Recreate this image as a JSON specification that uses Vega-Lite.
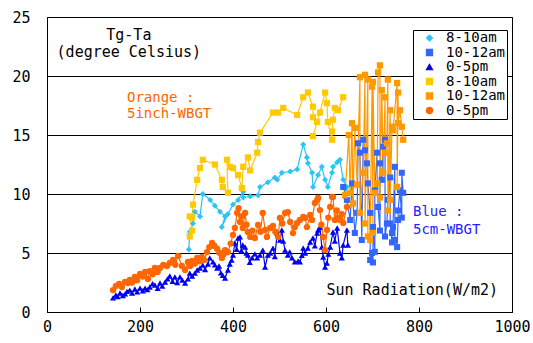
{
"$schema": "https://vega.github.io/schema/vega-lite/v6.json",
"width": 465, "height": 295,
"autosize": {"type": "none"},
"padding": {"left": 47, "top": 17, "right": 21, "bottom": 31},
"background": "white",
"config": {"view": {"stroke": "black", "strokeWidth": 1}, "font": "DejaVu Sans Mono"},
"datasets": {
"main": [
{"s":"5cm 8-10am","x":305,"y":5.3},{"s":"5cm 8-10am","x":307,"y":6.8},{"s":"5cm 8-10am","x":314,"y":7.5},{"s":"5cm 8-10am","x":318,"y":8.5},{"s":"5cm 8-10am","x":329,"y":8.1},{"s":"5cm 8-10am","x":335,"y":10.0},{"s":"5cm 8-10am","x":351,"y":9.5},{"s":"5cm 8-10am","x":361,"y":9.0},{"s":"5cm 8-10am","x":372,"y":8.5},{"s":"5cm 8-10am","x":383,"y":8.1},{"s":"5cm 8-10am","x":376,"y":7.2},{"s":"5cm 8-10am","x":389,"y":8.3},{"s":"5cm 8-10am","x":400,"y":9.1},{"s":"5cm 8-10am","x":411,"y":9.5},{"s":"5cm 8-10am","x":422,"y":10.2},{"s":"5cm 8-10am","x":422,"y":9.7},{"s":"5cm 8-10am","x":437,"y":9.8},{"s":"5cm 8-10am","x":454,"y":9.9},{"s":"5cm 8-10am","x":458,"y":10.6},{"s":"5cm 8-10am","x":475,"y":11.0},{"s":"5cm 8-10am","x":490,"y":11.4},{"s":"5cm 8-10am","x":495,"y":11.2},{"s":"5cm 8-10am","x":505,"y":11.8},{"s":"5cm 8-10am","x":523,"y":11.9},{"s":"5cm 8-10am","x":538,"y":12.1},{"s":"5cm 8-10am","x":551,"y":14.2},{"s":"5cm 8-10am","x":559,"y":13.1},{"s":"5cm 8-10am","x":561,"y":12.6},{"s":"5cm 8-10am","x":570,"y":11.8},{"s":"5cm 8-10am","x":572,"y":10.6},{"s":"5cm 8-10am","x":583,"y":11.6},{"s":"5cm 8-10am","x":591,"y":12.3},{"s":"5cm 8-10am","x":598,"y":11.2},{"s":"5cm 8-10am","x":604,"y":10.6},{"s":"5cm 8-10am","x":613,"y":11.8},{"s":"5cm 8-10am","x":615,"y":12.3},{"s":"5cm 8-10am","x":624,"y":12.7},{"s":"5cm 8-10am","x":630,"y":12.9},{"s":"5cm 8-10am","x":637,"y":11.2},{"s":"5cm 8-10am","x":645,"y":10.6},{"s":"5cm 8-10am","x":641,"y":9.7},
{"s":"5cm 10-12am","x":637,"y":10.6},{"s":"5cm 10-12am","x":645,"y":9.5},{"s":"5cm 10-12am","x":652,"y":7.8},{"s":"5cm 10-12am","x":656,"y":10.9},{"s":"5cm 10-12am","x":662,"y":6.7},{"s":"5cm 10-12am","x":667,"y":8.4},{"s":"5cm 10-12am","x":669,"y":14.3},{"s":"5cm 10-12am","x":673,"y":13.5},{"s":"5cm 10-12am","x":677,"y":6.1},{"s":"5cm 10-12am","x":680,"y":14.6},{"s":"5cm 10-12am","x":684,"y":13.7},{"s":"5cm 10-12am","x":688,"y":12.6},{"s":"5cm 10-12am","x":690,"y":10.9},{"s":"5cm 10-12am","x":695,"y":8.4},{"s":"5cm 10-12am","x":695,"y":4.4},{"s":"5cm 10-12am","x":699,"y":5.0},{"s":"5cm 10-12am","x":701,"y":4.2},{"s":"5cm 10-12am","x":701,"y":7.2},{"s":"5cm 10-12am","x":705,"y":5.1},{"s":"5cm 10-12am","x":705,"y":10.3},{"s":"5cm 10-12am","x":710,"y":13.5},{"s":"5cm 10-12am","x":712,"y":8.9},{"s":"5cm 10-12am","x":716,"y":6.9},{"s":"5cm 10-12am","x":716,"y":12.6},{"s":"5cm 10-12am","x":720,"y":11.2},{"s":"5cm 10-12am","x":723,"y":14.0},{"s":"5cm 10-12am","x":727,"y":14.6},{"s":"5cm 10-12am","x":727,"y":6.4},{"s":"5cm 10-12am","x":731,"y":7.5},{"s":"5cm 10-12am","x":733,"y":9.5},{"s":"5cm 10-12am","x":738,"y":11.4},{"s":"5cm 10-12am","x":738,"y":7.5},{"s":"5cm 10-12am","x":742,"y":5.9},{"s":"5cm 10-12am","x":742,"y":6.7},{"s":"5cm 10-12am","x":744,"y":7.2},{"s":"5cm 10-12am","x":748,"y":12.3},{"s":"5cm 10-12am","x":748,"y":6.1},{"s":"5cm 10-12am","x":753,"y":5.5},{"s":"5cm 10-12am","x":755,"y":7.8},{"s":"5cm 10-12am","x":755,"y":8.6},{"s":"5cm 10-12am","x":759,"y":10.3},{"s":"5cm 10-12am","x":763,"y":8.0},{"s":"5cm 10-12am","x":763,"y":11.8},{"s":"5cm 10-12am","x":766,"y":10.1},
{"s":"5cm 0-5pm","x":142,"y":1.19},{"s":"5cm 0-5pm","x":148,"y":1.44},{"s":"5cm 0-5pm","x":152,"y":1.3},{"s":"5cm 0-5pm","x":157,"y":1.61},{"s":"5cm 0-5pm","x":163,"y":1.4},{"s":"5cm 0-5pm","x":168,"y":1.53},{"s":"5cm 0-5pm","x":172,"y":1.75},{"s":"5cm 0-5pm","x":178,"y":1.86},{"s":"5cm 0-5pm","x":183,"y":1.6},{"s":"5cm 0-5pm","x":189,"y":1.95},{"s":"5cm 0-5pm","x":194,"y":1.7},{"s":"5cm 0-5pm","x":200,"y":2.03},{"s":"5cm 0-5pm","x":206,"y":1.8},{"s":"5cm 0-5pm","x":211,"y":2.03},{"s":"5cm 0-5pm","x":216,"y":1.9},{"s":"5cm 0-5pm","x":221,"y":2.12},{"s":"5cm 0-5pm","x":227,"y":2.4},{"s":"5cm 0-5pm","x":232,"y":2.29},{"s":"5cm 0-5pm","x":238,"y":2.0},{"s":"5cm 0-5pm","x":243,"y":2.46},{"s":"5cm 0-5pm","x":248,"y":2.2},{"s":"5cm 0-5pm","x":254,"y":2.54},{"s":"5cm 0-5pm","x":259,"y":2.8},{"s":"5cm 0-5pm","x":264,"y":3.05},{"s":"5cm 0-5pm","x":270,"y":2.6},{"s":"5cm 0-5pm","x":275,"y":2.97},{"s":"5cm 0-5pm","x":280,"y":2.5},{"s":"5cm 0-5pm","x":286,"y":2.97},{"s":"5cm 0-5pm","x":291,"y":2.7},{"s":"5cm 0-5pm","x":297,"y":2.46},{"s":"5cm 0-5pm","x":303,"y":2.8},{"s":"5cm 0-5pm","x":307,"y":3.3},{"s":"5cm 0-5pm","x":312,"y":3.05},{"s":"5cm 0-5pm","x":318,"y":3.3},{"s":"5cm 0-5pm","x":323,"y":3.56},{"s":"5cm 0-5pm","x":329,"y":3.73},{"s":"5cm 0-5pm","x":335,"y":3.98},{"s":"5cm 0-5pm","x":340,"y":3.6},{"s":"5cm 0-5pm","x":346,"y":4.07},{"s":"5cm 0-5pm","x":350,"y":4.58},{"s":"5cm 0-5pm","x":357,"y":4.24},{"s":"5cm 0-5pm","x":361,"y":4.0},{"s":"5cm 0-5pm","x":366,"y":3.73},{"s":"5cm 0-5pm","x":370,"y":3.9},{"s":"5cm 0-5pm","x":374,"y":3.31},{"s":"5cm 0-5pm","x":378,"y":3.1},{"s":"5cm 0-5pm","x":383,"y":2.88},{"s":"5cm 0-5pm","x":389,"y":3.56},{"s":"5cm 0-5pm","x":393,"y":4.07},{"s":"5cm 0-5pm","x":397,"y":4.4},{"s":"5cm 0-5pm","x":400,"y":4.83},{"s":"5cm 0-5pm","x":404,"y":5.85},{"s":"5cm 0-5pm","x":408,"y":5.3},{"s":"5cm 0-5pm","x":411,"y":6.27},{"s":"5cm 0-5pm","x":415,"y":6.36},{"s":"5cm 0-5pm","x":418,"y":5.2},{"s":"5cm 0-5pm","x":421,"y":5.68},{"s":"5cm 0-5pm","x":426,"y":5.51},{"s":"5cm 0-5pm","x":429,"y":5.0},{"s":"5cm 0-5pm","x":432,"y":4.83},{"s":"5cm 0-5pm","x":436,"y":4.2},{"s":"5cm 0-5pm","x":441,"y":4.58},{"s":"5cm 0-5pm","x":447,"y":4.92},{"s":"5cm 0-5pm","x":452,"y":4.58},{"s":"5cm 0-5pm","x":458,"y":4.83},{"s":"5cm 0-5pm","x":464,"y":5.25},{"s":"5cm 0-5pm","x":469,"y":3.81},{"s":"5cm 0-5pm","x":475,"y":4.83},{"s":"5cm 0-5pm","x":480,"y":5.0},{"s":"5cm 0-5pm","x":486,"y":5.42},{"s":"5cm 0-5pm","x":490,"y":4.7},{"s":"5cm 0-5pm","x":495,"y":6.69},{"s":"5cm 0-5pm","x":501,"y":6.1},{"s":"5cm 0-5pm","x":505,"y":6.95},{"s":"5cm 0-5pm","x":508,"y":6.0},{"s":"5cm 0-5pm","x":512,"y":5.25},{"s":"5cm 0-5pm","x":518,"y":4.83},{"s":"5cm 0-5pm","x":522,"y":5.1},{"s":"5cm 0-5pm","x":527,"y":4.58},{"s":"5cm 0-5pm","x":533,"y":4.24},{"s":"5cm 0-5pm","x":540,"y":4.32},{"s":"5cm 0-5pm","x":544,"y":4.24},{"s":"5cm 0-5pm","x":548,"y":4.8},{"s":"5cm 0-5pm","x":551,"y":5.42},{"s":"5cm 0-5pm","x":555,"y":5.0},{"s":"5cm 0-5pm","x":561,"y":5.42},{"s":"5cm 0-5pm","x":566,"y":5.93},{"s":"5cm 0-5pm","x":572,"y":6.27},{"s":"5cm 0-5pm","x":576,"y":5.6},{"s":"5cm 0-5pm","x":581,"y":6.69},{"s":"5cm 0-5pm","x":583,"y":6.95},{"s":"5cm 0-5pm","x":587,"y":7.2},{"s":"5cm 0-5pm","x":591,"y":5.51},{"s":"5cm 0-5pm","x":594,"y":4.66},{"s":"5cm 0-5pm","x":598,"y":3.81},{"s":"5cm 0-5pm","x":602,"y":4.15},{"s":"5cm 0-5pm","x":605,"y":4.9},{"s":"5cm 0-5pm","x":609,"y":5.51},{"s":"5cm 0-5pm","x":615,"y":6.78},{"s":"5cm 0-5pm","x":619,"y":6.0},{"s":"5cm 0-5pm","x":624,"y":7.12},{"s":"5cm 0-5pm","x":630,"y":5.0},{"s":"5cm 0-5pm","x":634,"y":4.6},{"s":"5cm 0-5pm","x":637,"y":5.68},{"s":"5cm 0-5pm","x":645,"y":6.95},{"s":"5cm 0-5pm","x":647,"y":5.68},
{"s":"5inch 8-10am","x":307,"y":6.4},{"s":"5inch 8-10am","x":312,"y":6.9},{"s":"5inch 8-10am","x":307,"y":8.1},{"s":"5inch 8-10am","x":312,"y":8.0},{"s":"5inch 8-10am","x":314,"y":9.1},{"s":"5inch 8-10am","x":323,"y":11.2},{"s":"5inch 8-10am","x":329,"y":12.2},{"s":"5inch 8-10am","x":335,"y":12.9},{"s":"5inch 8-10am","x":361,"y":12.5},{"s":"5inch 8-10am","x":376,"y":11.2},{"s":"5inch 8-10am","x":378,"y":10.6},{"s":"5inch 8-10am","x":389,"y":10.1},{"s":"5inch 8-10am","x":387,"y":12.9},{"s":"5inch 8-10am","x":394,"y":12.3},{"s":"5inch 8-10am","x":400,"y":12.2},{"s":"5inch 8-10am","x":411,"y":11.6},{"s":"5inch 8-10am","x":419,"y":10.5},{"s":"5inch 8-10am","x":422,"y":12.3},{"s":"5inch 8-10am","x":432,"y":13.1},{"s":"5inch 8-10am","x":437,"y":12.0},{"s":"5inch 8-10am","x":452,"y":13.5},{"s":"5inch 8-10am","x":454,"y":14.4},{"s":"5inch 8-10am","x":458,"y":15.2},{"s":"5inch 8-10am","x":486,"y":16.9},{"s":"5inch 8-10am","x":497,"y":16.9},{"s":"5inch 8-10am","x":508,"y":17.3},{"s":"5inch 8-10am","x":538,"y":16.7},{"s":"5inch 8-10am","x":551,"y":18.2},{"s":"5inch 8-10am","x":561,"y":18.6},{"s":"5inch 8-10am","x":572,"y":17.4},{"s":"5inch 8-10am","x":572,"y":16.5},{"s":"5inch 8-10am","x":581,"y":16.1},{"s":"5inch 8-10am","x":572,"y":14.9},{"s":"5inch 8-10am","x":587,"y":16.9},{"s":"5inch 8-10am","x":598,"y":18.6},{"s":"5inch 8-10am","x":602,"y":17.7},{"s":"5inch 8-10am","x":604,"y":16.1},{"s":"5inch 8-10am","x":613,"y":14.6},{"s":"5inch 8-10am","x":613,"y":15.3},{"s":"5inch 8-10am","x":615,"y":16.3},{"s":"5inch 8-10am","x":619,"y":17.3},{"s":"5inch 8-10am","x":626,"y":17.1},{"s":"5inch 8-10am","x":637,"y":18.2},
{"s":"5inch 10-12am","x":641,"y":9.9},{"s":"5inch 10-12am","x":649,"y":15.0},{"s":"5inch 10-12am","x":652,"y":10.1},{"s":"5inch 10-12am","x":656,"y":16.0},{"s":"5inch 10-12am","x":658,"y":9.2},{"s":"5inch 10-12am","x":662,"y":15.6},{"s":"5inch 10-12am","x":667,"y":10.8},{"s":"5inch 10-12am","x":673,"y":19.9},{"s":"5inch 10-12am","x":673,"y":8.4},{"s":"5inch 10-12am","x":680,"y":11.8},{"s":"5inch 10-12am","x":684,"y":20.1},{"s":"5inch 10-12am","x":684,"y":7.5},{"s":"5inch 10-12am","x":690,"y":19.7},{"s":"5inch 10-12am","x":690,"y":6.4},{"s":"5inch 10-12am","x":695,"y":6.1},{"s":"5inch 10-12am","x":699,"y":19.1},{"s":"5inch 10-12am","x":701,"y":6.7},{"s":"5inch 10-12am","x":701,"y":19.5},{"s":"5inch 10-12am","x":705,"y":10.1},{"s":"5inch 10-12am","x":710,"y":10.9},{"s":"5inch 10-12am","x":712,"y":20.3},{"s":"5inch 10-12am","x":716,"y":20.9},{"s":"5inch 10-12am","x":716,"y":9.7},{"s":"5inch 10-12am","x":720,"y":18.8},{"s":"5inch 10-12am","x":723,"y":11.8},{"s":"5inch 10-12am","x":727,"y":18.2},{"s":"5inch 10-12am","x":727,"y":13.5},{"s":"5inch 10-12am","x":731,"y":14.3},{"s":"5inch 10-12am","x":733,"y":19.7},{"s":"5inch 10-12am","x":733,"y":8.6},{"s":"5inch 10-12am","x":738,"y":17.1},{"s":"5inch 10-12am","x":738,"y":9.5},{"s":"5inch 10-12am","x":742,"y":15.7},{"s":"5inch 10-12am","x":744,"y":15.4},{"s":"5inch 10-12am","x":753,"y":19.4},{"s":"5inch 10-12am","x":753,"y":10.6},{"s":"5inch 10-12am","x":755,"y":18.6},{"s":"5inch 10-12am","x":755,"y":16.0},{"s":"5inch 10-12am","x":759,"y":17.1},{"s":"5inch 10-12am","x":763,"y":15.7},{"s":"5inch 10-12am","x":766,"y":14.6},
{"s":"5inch 0-5pm","x":142,"y":1.86},{"s":"5inch 0-5pm","x":148,"y":2.2},{"s":"5inch 0-5pm","x":155,"y":2.37},{"s":"5inch 0-5pm","x":161,"y":2.12},{"s":"5inch 0-5pm","x":168,"y":2.54},{"s":"5inch 0-5pm","x":174,"y":2.46},{"s":"5inch 0-5pm","x":178,"y":2.71},{"s":"5inch 0-5pm","x":183,"y":2.5},{"s":"5inch 0-5pm","x":189,"y":2.97},{"s":"5inch 0-5pm","x":194,"y":2.7},{"s":"5inch 0-5pm","x":200,"y":3.22},{"s":"5inch 0-5pm","x":206,"y":3.0},{"s":"5inch 0-5pm","x":211,"y":3.39},{"s":"5inch 0-5pm","x":217,"y":2.8},{"s":"5inch 0-5pm","x":221,"y":3.47},{"s":"5inch 0-5pm","x":227,"y":3.2},{"s":"5inch 0-5pm","x":232,"y":3.73},{"s":"5inch 0-5pm","x":238,"y":3.4},{"s":"5inch 0-5pm","x":243,"y":3.73},{"s":"5inch 0-5pm","x":250,"y":3.98},{"s":"5inch 0-5pm","x":258,"y":3.9},{"s":"5inch 0-5pm","x":264,"y":4.15},{"s":"5inch 0-5pm","x":271,"y":4.41},{"s":"5inch 0-5pm","x":276,"y":4.0},{"s":"5inch 0-5pm","x":282,"y":4.75},{"s":"5inch 0-5pm","x":290,"y":3.9},{"s":"5inch 0-5pm","x":297,"y":3.56},{"s":"5inch 0-5pm","x":303,"y":4.24},{"s":"5inch 0-5pm","x":308,"y":3.9},{"s":"5inch 0-5pm","x":312,"y":4.32},{"s":"5inch 0-5pm","x":318,"y":4.1},{"s":"5inch 0-5pm","x":323,"y":4.58},{"s":"5inch 0-5pm","x":328,"y":4.3},{"s":"5inch 0-5pm","x":333,"y":4.66},{"s":"5inch 0-5pm","x":338,"y":4.4},{"s":"5inch 0-5pm","x":344,"y":5.08},{"s":"5inch 0-5pm","x":349,"y":5.5},{"s":"5inch 0-5pm","x":355,"y":5.85},{"s":"5inch 0-5pm","x":360,"y":5.6},{"s":"5inch 0-5pm","x":366,"y":5.34},{"s":"5inch 0-5pm","x":371,"y":5.0},{"s":"5inch 0-5pm","x":376,"y":4.58},{"s":"5inch 0-5pm","x":380,"y":4.9},{"s":"5inch 0-5pm","x":383,"y":5.25},{"s":"5inch 0-5pm","x":389,"y":5.08},{"s":"5inch 0-5pm","x":395,"y":5.8},{"s":"5inch 0-5pm","x":400,"y":6.53},{"s":"5inch 0-5pm","x":404,"y":7.12},{"s":"5inch 0-5pm","x":409,"y":8.39},{"s":"5inch 0-5pm","x":412,"y":8.8},{"s":"5inch 0-5pm","x":415,"y":7.63},{"s":"5inch 0-5pm","x":418,"y":8.1},{"s":"5inch 0-5pm","x":421,"y":7.12},{"s":"5inch 0-5pm","x":426,"y":8.39},{"s":"5inch 0-5pm","x":429,"y":7.4},{"s":"5inch 0-5pm","x":432,"y":6.78},{"s":"5inch 0-5pm","x":437,"y":6.36},{"s":"5inch 0-5pm","x":442,"y":6.9},{"s":"5inch 0-5pm","x":447,"y":6.27},{"s":"5inch 0-5pm","x":454,"y":7.37},{"s":"5inch 0-5pm","x":459,"y":6.8},{"s":"5inch 0-5pm","x":464,"y":8.39},{"s":"5inch 0-5pm","x":469,"y":6.95},{"s":"5inch 0-5pm","x":473,"y":6.36},{"s":"5inch 0-5pm","x":480,"y":7.12},{"s":"5inch 0-5pm","x":486,"y":7.29},{"s":"5inch 0-5pm","x":491,"y":6.8},{"s":"5inch 0-5pm","x":497,"y":6.36},{"s":"5inch 0-5pm","x":501,"y":7.97},{"s":"5inch 0-5pm","x":506,"y":7.5},{"s":"5inch 0-5pm","x":512,"y":8.39},{"s":"5inch 0-5pm","x":518,"y":8.47},{"s":"5inch 0-5pm","x":523,"y":7.63},{"s":"5inch 0-5pm","x":529,"y":6.69},{"s":"5inch 0-5pm","x":533,"y":7.2},{"s":"5inch 0-5pm","x":538,"y":7.54},{"s":"5inch 0-5pm","x":544,"y":7.8},{"s":"5inch 0-5pm","x":551,"y":8.05},{"s":"5inch 0-5pm","x":555,"y":7.97},{"s":"5inch 0-5pm","x":559,"y":7.2},{"s":"5inch 0-5pm","x":566,"y":8.22},{"s":"5inch 0-5pm","x":570,"y":7.8},{"s":"5inch 0-5pm","x":576,"y":9.24},{"s":"5inch 0-5pm","x":581,"y":9.49},{"s":"5inch 0-5pm","x":583,"y":9.66},{"s":"5inch 0-5pm","x":587,"y":8.64},{"s":"5inch 0-5pm","x":590,"y":7.4},{"s":"5inch 0-5pm","x":594,"y":6.36},{"s":"5inch 0-5pm","x":598,"y":5.25},{"s":"5inch 0-5pm","x":602,"y":6.95},{"s":"5inch 0-5pm","x":605,"y":8.0},{"s":"5inch 0-5pm","x":609,"y":8.9},{"s":"5inch 0-5pm","x":613,"y":9.75},{"s":"5inch 0-5pm","x":615,"y":9.75},{"s":"5inch 0-5pm","x":619,"y":7.8},{"s":"5inch 0-5pm","x":623,"y":8.6},{"s":"5inch 0-5pm","x":626,"y":7.97},{"s":"5inch 0-5pm","x":630,"y":7.8},{"s":"5inch 0-5pm","x":634,"y":8.3},{"s":"5inch 0-5pm","x":637,"y":7.54},{"s":"5inch 0-5pm","x":645,"y":8.9}
]
},
"layer": [
{
"data": {"name": "main"},
"mark": {"type": "line", "strokeWidth": 1.2},
"encoding": {
"x": {"field": "x", "type": "quantitative", "scale": {"domain": [0, 1000], "nice": false, "zero": false, "padding": 0},
"axis": {"values": [0, 200, 400, 600, 800, 1000], "format": "d", "labelFlush": false, "grid": false, "title": null, "domainColor": "black", "tickColor": "black", "tickSize": -5, "labelFontSize": 15, "labelColor": "black", "labelPadding": 12, "labelFont": "DejaVu Sans Mono"}},
"y": {"field": "y", "type": "quantitative", "scale": {"domain": [0, 25], "nice": false, "zero": false, "padding": 0},
"axis": {"values": [0, 5, 10, 15, 20, 25], "format": "d", "labelFlush": false, "grid": true, "gridColor": "black", "gridWidth": 1, "gridOpacity": 1, "ticks": false, "domainColor": "black", "title": null, "labelFontSize": 15, "labelColor": "black", "labelPadding": 17, "labelFont": "DejaVu Sans Mono"}},
"color": {"field": "s", "type": "nominal",
"scale": {"domain": ["5cm 8-10am", "5cm 10-12am", "5cm 0-5pm", "5inch 8-10am", "5inch 10-12am", "5inch 0-5pm"], "range": ["#29C5F6", "#3366FF", "#0000EE", "#FFC800", "#FF9900", "#FF6600"]},
"legend": {"orient": "none", "legendX": 366, "legendY": 13, "title": null, "strokeColor": "black", "fillColor": "white", "padding": 1, "rowPadding": 0.5, "symbolSize": 100, "symbolOffset": 8.5, "labelOffset": 9.5, "labelFont": "DejaVu Sans Mono", "labelFontSize": 14, "labelColor": "black", "labelExpr": "split(datum.label, ' ')[1]",
"encode": {"symbols": {"update": {
"shape": {"signal": "datum.value == '5cm 8-10am' ? 'M-2.1,0H2.1M0,-0.8L0.8,0L0,0.8L-0.8,0Z' : datum.value == '5cm 0-5pm' ? 'M-2.1,0H2.1M0,-0.75L0.75,0.6H-0.75Z' : datum.value == '5inch 0-5pm' ? 'M-2.1,0H2.1M-0.7,0A0.7,0.7 0 1,0 0.7,0A0.7,0.7 0 1,0 -0.7,0Z' : 'M-2.1,0H2.1M-0.6,-0.6H0.6V0.6H-0.6Z'"},
"fill": {"scale": "color", "field": "value"},
"stroke": {"scale": "color", "field": "value"},
"strokeWidth": {"value": 1.2},
"opacity": {"value": 1}
}}}}},
"order": {"value": null}
}
},
{
"data": {"name": "main"},
"mark": {"type": "point", "filled": true, "opacity": 1},
"encoding": {
"x": {"field": "x", "type": "quantitative"},
"y": {"field": "y", "type": "quantitative"},
"color": {"field": "s", "type": "nominal"},
"shape": {"field": "s", "type": "nominal", "scale": {"domain": ["5cm 8-10am", "5cm 10-12am", "5cm 0-5pm", "5inch 8-10am", "5inch 10-12am", "5inch 0-5pm"], "range": ["diamond", "square", "triangle-up", "square", "square", "circle"]}, "legend": null},
"size": {"field": "s", "type": "nominal", "scale": {"domain": ["5cm 8-10am", "5cm 10-12am", "5cm 0-5pm", "5inch 8-10am", "5inch 10-12am", "5inch 0-5pm"], "range": [36, 40, 45, 40, 40, 60]}, "legend": null}
}
},
{"data": {"values": [{}]}, "mark": {"type": "text", "align": "center", "baseline": "middle", "fontSize": 15, "font": "DejaVu Sans Mono", "color": "black"},
"encoding": {"x": {"datum": 176}, "y": {"datum": 23.5}, "text": {"value": "Tg-Ta"}}},
{"data": {"values": [{}]}, "mark": {"type": "text", "align": "center", "baseline": "middle", "fontSize": 15, "font": "DejaVu Sans Mono", "color": "black"},
"encoding": {"x": {"datum": 176}, "y": {"datum": 22.0}, "text": {"value": "(degree Celsius)"}}},
{"data": {"values": [{}]}, "mark": {"type": "text", "align": "left", "baseline": "middle", "fontSize": 14, "font": "DejaVu Sans Mono", "color": "#FF6600"},
"encoding": {"x": {"datum": 172}, "y": {"datum": 18.15}, "text": {"value": "Orange :"}}},
{"data": {"values": [{}]}, "mark": {"type": "text", "align": "left", "baseline": "middle", "fontSize": 14, "font": "DejaVu Sans Mono", "color": "#FF6600"},
"encoding": {"x": {"datum": 172}, "y": {"datum": 16.8}, "text": {"value": "5inch-WBGT"}}},
{"data": {"values": [{}]}, "mark": {"type": "text", "align": "left", "baseline": "middle", "fontSize": 14, "font": "DejaVu Sans Mono", "color": "#2222FF"},
"encoding": {"x": {"datum": 787}, "y": {"datum": 8.45}, "text": {"value": "Blue :"}}},
{"data": {"values": [{}]}, "mark": {"type": "text", "align": "left", "baseline": "middle", "fontSize": 14, "font": "DejaVu Sans Mono", "color": "#2222FF"},
"encoding": {"x": {"datum": 787}, "y": {"datum": 6.95}, "text": {"value": "5cm-WBGT"}}},
{"data": {"values": [{}]}, "mark": {"type": "text", "align": "right", "baseline": "middle", "fontSize": 15, "font": "DejaVu Sans Mono", "color": "black"},
"encoding": {"x": {"datum": 970}, "y": {"datum": 1.86}, "text": {"value": "Sun Radiation(W/m2)"}}}
]
}
